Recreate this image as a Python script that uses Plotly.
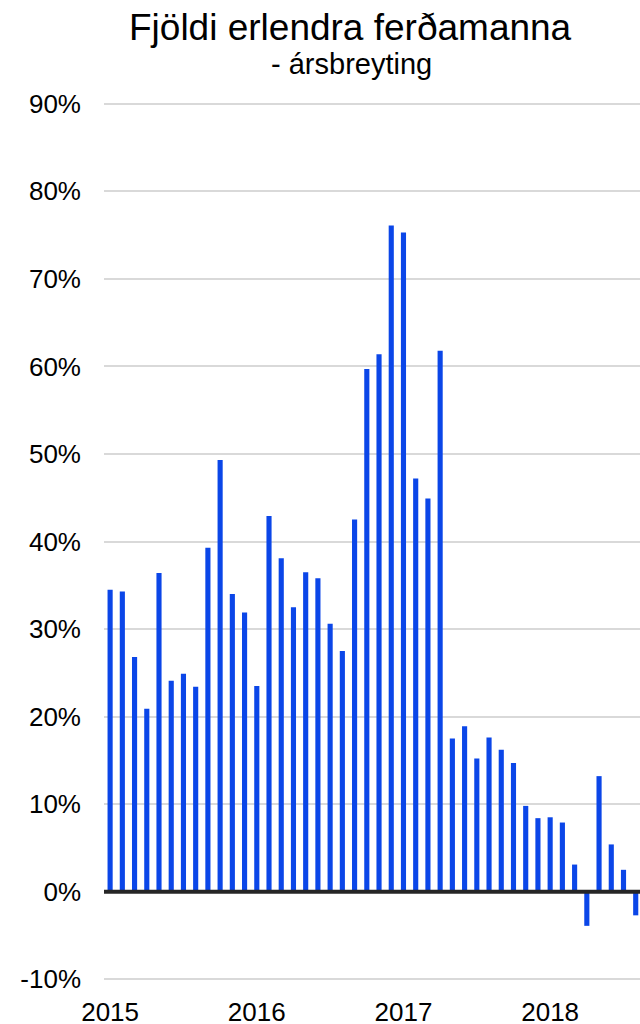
import plotly.graph_objects as go

# Monthly year-on-year change in number of foreign tourists (%), Jan 2015 - Aug 2018
months = [
    "2015-01", "2015-02", "2015-03", "2015-04", "2015-05", "2015-06",
    "2015-07", "2015-08", "2015-09", "2015-10", "2015-11", "2015-12",
    "2016-01", "2016-02", "2016-03", "2016-04", "2016-05", "2016-06",
    "2016-07", "2016-08", "2016-09", "2016-10", "2016-11", "2016-12",
    "2017-01", "2017-02", "2017-03", "2017-04", "2017-05", "2017-06",
    "2017-07", "2017-08", "2017-09", "2017-10", "2017-11", "2017-12",
    "2018-01", "2018-02", "2018-03", "2018-04", "2018-05", "2018-06",
    "2018-07", "2018-08",
]
change_pct = [
    34.5, 34.3, 26.8, 20.9, 36.4, 24.1, 24.9, 23.4, 39.3, 49.3, 34.0, 31.9,
    23.5, 42.9, 38.1, 32.5, 36.5, 35.8, 30.6, 27.5, 42.5, 59.7, 61.4, 76.1,
    75.3, 47.2, 44.9, 61.8, 17.5, 18.9, 15.2, 17.6, 16.2, 14.7, 9.8, 8.4,
    8.5, 7.9, 3.1, -3.9, 13.2, 5.4, 2.5, -2.7,
]
year_ticks = ["2015-01", "2016-01", "2017-01", "2018-01"]
year_labels = ["2015", "2016", "2017", "2018"]
y_ticks = list(range(-10, 100, 10))
y_labels = [f"{v}%" for v in y_ticks]

title_text = "Fjöldi erlendra ferðamanna"
subtitle_text = "- ársbreyting"

FONT = "Liberation Sans, Arial, sans-serif"

fig = go.Figure(
    go.Bar(
        x=months,
        y=change_pct,
        marker=dict(color="#0B46E8", line=dict(width=0)),
        width=0.42,
        hovertemplate="%{x}: %{y:.1f}%<extra></extra>",
    )
)

fig.update_layout(
    width=640,
    height=1024,
    margin=dict(l=104, r=0, t=102, b=43),
    paper_bgcolor="white",
    plot_bgcolor="white",
    showlegend=False,
    font=dict(family=FONT, size=26, color="#000000"),
)

fig.update_xaxes(
    type="category",
    categoryorder="array",
    categoryarray=months,
    range=[-0.5, 43.35],
    tickmode="array",
    tickvals=year_ticks,
    ticktext=year_labels,
    showgrid=False,
    showline=False,
    ticks="",
    automargin=False,
    ticklabelstandoff=13,
    tickfont=dict(family=FONT, size=26, color="#000000"),
)

fig.update_yaxes(
    range=[-10.2, 90.2],
    tickmode="array",
    tickvals=y_ticks,
    ticktext=y_labels,
    showgrid=True,
    gridcolor="#D9D9D9",
    gridwidth=1.5,
    zeroline=False,
    showline=False,
    ticks="",
    automargin=False,
    ticklabelstandoff=22,
    tickfont=dict(family=FONT, size=26, color="#000000"),
)

# Emphasised zero line drawn over the bars
fig.add_shape(
    type="line", xref="paper", yref="y",
    x0=0, x1=1, y0=0, y1=0,
    line=dict(color="#262626", width=4),
    layer="above",
)

fig.add_annotation(
    text=title_text, xref="paper", yref="paper",
    x=0.459, y=1, yshift=97, xanchor="center", yanchor="top",
    showarrow=False, font=dict(family=FONT, size=37, color="#000000"),
)
fig.add_annotation(
    text=subtitle_text, xref="paper", yref="paper",
    x=0.461, y=1, yshift=56, xanchor="center", yanchor="top",
    showarrow=False, font=dict(family=FONT, size=29, color="#000000"),
)

fig.write_html(
    "out.html",
    config={"displayModeBar": False},
    post_script="document.body.style.margin='0px';document.body.style.overflow='hidden';",
)
